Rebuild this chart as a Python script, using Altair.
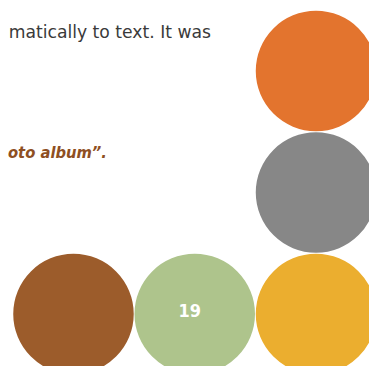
import altair as alt
import pandas as pd

# circles laid out on a 3x3 grid (column, row)
circle_col = [2, 2, 2, 0, 1]
circle_row = [0, 1, 2, 2, 2]
circle_color = ["#E3742E", "#878787", "#EBAE2F", "#9C5C2B", "#AEC48C"]
circle_label = ["", "", "", "", "19"]

# text fragments (right end in grid units)
text_lines = ["matically to text. It was", "oto album\u201d."]
text_col = [1.134, 0.276]
text_row = [-0.272, 0.712]

circles = pd.DataFrame({"col": circle_col, "row": circle_row,
                        "color": circle_color, "label": circle_label})
body = pd.DataFrame({"col": [text_col[0]], "row": [text_row[0]], "t": [text_lines[0]]})
quote = pd.DataFrame({"col": [text_col[1]], "row": [text_row[1]], "t": [text_lines[1]]})

xs = alt.Scale(domain=[-0.540, 2.437], nice=False, zero=False)
ys = alt.Scale(domain=[-0.5185, 2.428], nice=False, zero=False, reverse=True)
X = alt.X("col:Q", scale=xs, axis=None)
Y = alt.Y("row:Q", scale=ys, axis=None)

dots = alt.Chart(circles).mark_circle(size=14520, opacity=1).encode(
    x=X, y=Y, color=alt.Color("color:N", scale=None)
)
labels = alt.Chart(circles).mark_text(
    font="Liberation Sans Narrow, DejaVu Sans Condensed",
    fontSize=18, fontWeight="bold", color="white", dx=-5, dy=-2,
    align="center", baseline="middle"
).encode(x=X, y=Y, text="label:N")

t1 = alt.Chart(body).mark_text(
    font="DejaVu Sans", fontSize=17.2, color="#3a3a3a", align="right", baseline="alphabetic"
).encode(x=X, y=Y, text="t:N")
t2 = alt.Chart(quote).mark_text(
    font="DejaVu Sans Condensed", fontSize=16.4, fontWeight="bold",
    fontStyle="italic", color="#8E4F22", align="right", baseline="alphabetic"
).encode(x=X, y=Y, text="t:N")

chart = alt.layer(dots, labels, t1, t2).properties(
    width=361, height=358, autosize=alt.AutoSizeParams(type="none"), padding=0
).configure_view(stroke=None)

chart.save("out.html", embed_options={"renderer": "svg", "actions": False})
